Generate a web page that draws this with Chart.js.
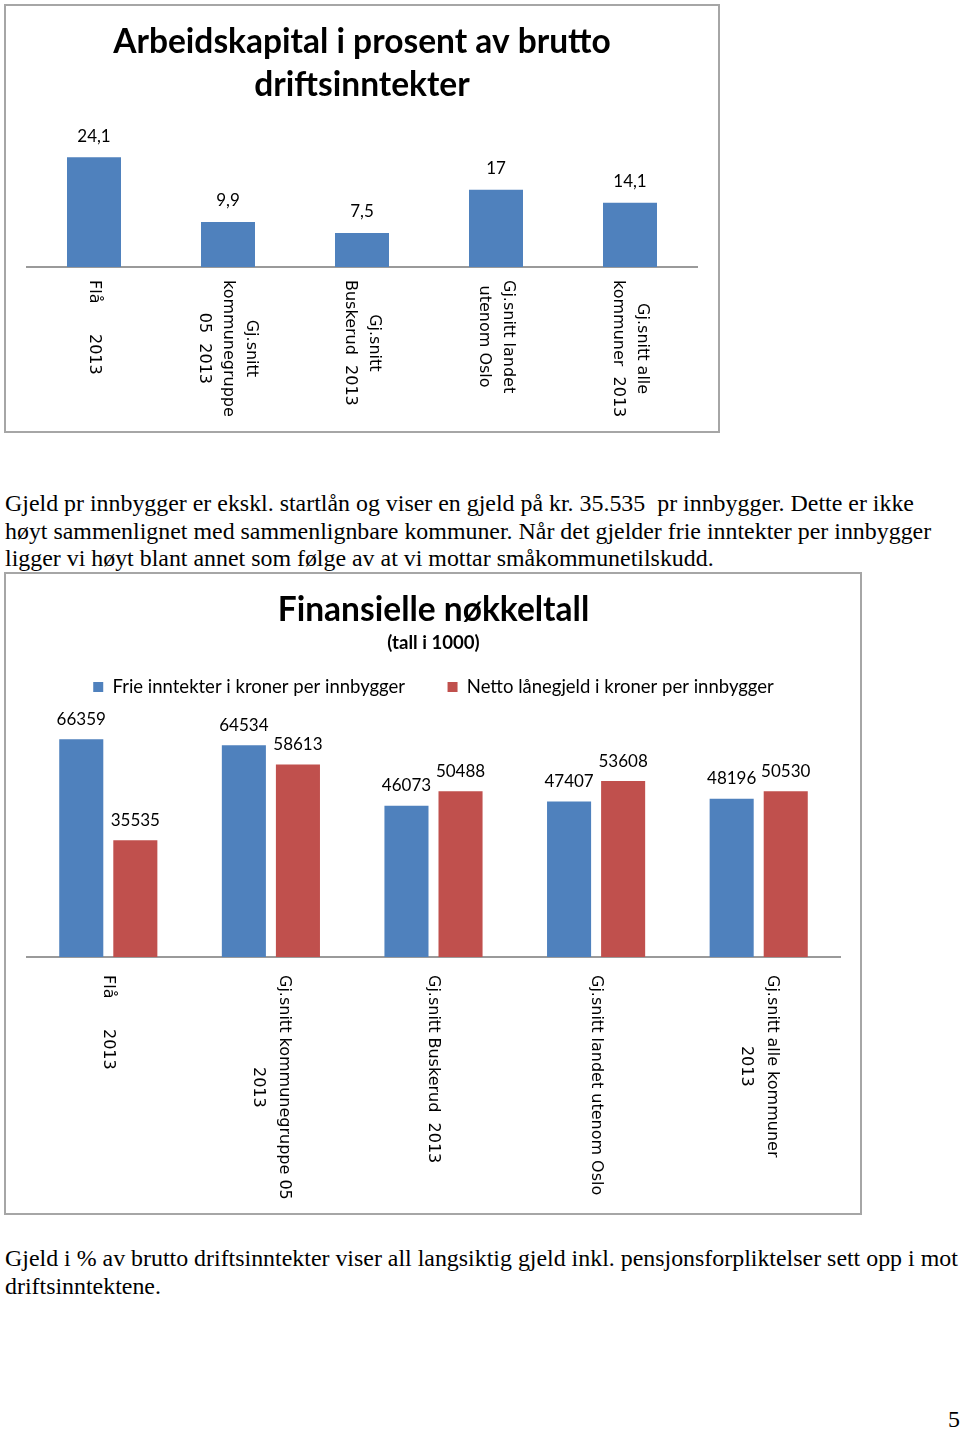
<!DOCTYPE html>
<html lang="no">
<head>
<meta charset="utf-8">
<title>Finansielle nøkkeltall</title>
<script src="https://cdn.jsdelivr.net/npm/chart.js@4.4.0/dist/chart.umd.min.js"></script>
<style>
  html, body { margin: 0; padding: 0; background: #fff; }
  body { position: relative; width: 960px; height: 1432px; overflow: hidden; }
  .box { position: absolute; border: 2px solid #a6a6a6; background: #fff; }
  .box canvas { display: block; }
  #box1 { left: 4px; top: 4px; width: 712px; height: 425px; }
  #box2 { left: 4px; top: 572px; width: 854px; height: 639px; }
  .txt {
    position: absolute; left: 5px; margin: 0;
    font-family: "Liberation Serif", "Times New Roman", serif;
    font-size: 23.9px; line-height: 27.5px; color: #000; white-space: nowrap;
  }
  #p1 { top: 490px; }
  #p2 { top: 1245px; }
  #pagenr { position: absolute; right: 0; top: 1406px; left: auto; }
</style>
</head>
<body>

<div class="box" id="box1"><canvas id="arbeidskapitalChart" width="712" height="425"></canvas></div>

<p class="txt" id="p1">Gjeld pr innbygger er ekskl. startlån og viser en gjeld på kr. 35.535&nbsp; pr innbygger. Dette er ikke<br>høyt sammenlignet med sammenlignbare kommuner. Når det gjelder frie inntekter per innbygger<br>ligger vi høyt blant annet som følge av at vi mottar småkommunetilskudd.</p>

<div class="box" id="box2"><canvas id="nokkeltallChart" width="854" height="639"></canvas></div>

<p class="txt" id="p2">Gjeld i % av brutto driftsinntekter viser all langsiktig gjeld inkl. pensjonsforpliktelser sett opp i mot<br>driftsinntektene.</p>

<p class="txt" id="pagenr">5</p>

<script>
// --- DATA ---
const kategorierArbeidskapital = [
    'Flå      2013',
    ['Gj.snitt', 'kommunegruppe', '05  2013'],
    ['Gj.snitt', 'Buskerud  2013'],
    ['Gj.snitt landet', 'utenom Oslo'],
    ['Gj.snitt alle', 'kommuner  2013']
];
const arbeidskapitalProsent = [24.1, 9.9, 7.5, 17, 14.1];

const kategorierNokkeltall = [
    'Flå      2013',
    ['Gj.snitt kommunegruppe 05', '2013'],
    'Gj.snitt Buskerud  2013',
    'Gj.snitt landet utenom Oslo',
    ['Gj.snitt alle kommuner', '2013']
];
const frieInntekter = [66359, 64534, 46073, 47407, 48196];
const nettoLanegjeld = [35535, 58613, 50488, 53608, 50530];

const BLUE = '#4f81bd';
const RED = '#c0504d';
const LABEL_FONT = 'Lato, Carlito, Calibri, sans-serif';

// --- PLUGINS ---
// category labels turned 90 degrees clockwise, like the Excel original
const verticalLabels = {
    id: 'verticalLabels',
    afterDraw(chart, args, opts) {
        const ctx = chart.ctx;
        const xScale = chart.scales.x;
        ctx.save();
        ctx.font = opts.font;
        ctx.fillStyle = '#000';
        ctx.textAlign = 'center';
        ctx.textBaseline = 'middle';
        chart.data.labels.forEach((label, i) => {
            const lines = Array.isArray(label) ? label : [label];
            const longest = Math.max(...lines.map(l => ctx.measureText(l).width));
            ctx.save();
            ctx.translate(xScale.getPixelForTick(i), xScale.top + opts.offset);
            ctx.rotate(Math.PI / 2);
            lines.forEach((line, j) => {
                ctx.fillText(line, longest / 2, (j - (lines.length - 1) / 2) * opts.lineHeight);
            });
            ctx.restore();
        });
        ctx.restore();
    }
};

// value above each bar
const valueLabels = {
    id: 'valueLabels',
    afterDatasetsDraw(chart, args, opts) {
        const ctx = chart.ctx;
        ctx.save();
        ctx.font = opts.font;
        ctx.fillStyle = '#000';
        ctx.textAlign = 'center';
        ctx.textBaseline = 'middle';
        chart.data.datasets.forEach((ds, di) => {
            chart.getDatasetMeta(di).data.forEach((bar, i) => {
                ctx.fillText(String(ds.data[i]).replace('.', ','), bar.x, bar.y - opts.offset);
            });
        });
        ctx.restore();
    }
};

Chart.register(verticalLabels, valueLabels);

// --- CHART 1: Arbeidskapital ---
new Chart(document.getElementById('arbeidskapitalChart'), {
    type: 'bar',
    data: {
        labels: kategorierArbeidskapital,
        datasets: [{
            label: 'Arbeidskapital i prosent av brutto driftsinntekter',
            data: arbeidskapitalProsent,
            backgroundColor: BLUE,
            categoryPercentage: 1,
            barPercentage: 0.403
        }]
    },
    options: {
        responsive: false,
        animation: false,
        layout: { padding: { top: 14.5, left: 21, right: 21, bottom: 0 } },
        plugins: {
            legend: { display: false },
            tooltip: { enabled: false },
            title: {
                display: true,
                text: ['Arbeidskapital i prosent av brutto', 'driftsinntekter'],
                color: '#000',
                font: { family: LABEL_FONT, size: 33.5, weight: 'bold', lineHeight: 43 / 33.5 },
                padding: { top: 0, bottom: 24 }
            },
            verticalLabels: { font: '16px "DejaVu Sans"', offset: 13, lineHeight: 23.5 },
            valueLabels: { font: '17px ' + LABEL_FONT, offset: 21 }
        },
        scales: {
            x: {
                grid: { display: false },
                ticks: { display: false },
                border: { display: true, color: '#9a9a9a', width: 2 },
                afterFit: (scale) => { scale.height = 164; }
            },
            y: { display: false, min: 0, max: 30 }
        }
    }
});

// --- CHART 2: Finansielle nøkkeltall ---
new Chart(document.getElementById('nokkeltallChart'), {
    type: 'bar',
    data: {
        labels: kategorierNokkeltall,
        datasets: [{
            label: 'Frie inntekter i kroner per innbygger',
            data: frieInntekter,
            backgroundColor: BLUE,
            categoryPercentage: 0.665,
            barPercentage: 0.815
        }, {
            label: 'Netto lånegjeld i kroner per innbygger',
            data: nettoLanegjeld,
            backgroundColor: RED,
            categoryPercentage: 0.665,
            barPercentage: 0.815
        }]
    },
    options: {
        responsive: false,
        animation: false,
        layout: { padding: { top: 15.9, left: 21, right: 20, bottom: 0 } },
        plugins: {
            tooltip: { enabled: false },
            title: {
                display: true,
                text: 'Finansielle nøkkeltall',
                color: '#000',
                font: { family: LABEL_FONT, size: 33.5, weight: 'bold', lineHeight: 1.2 },
                padding: { top: 0, bottom: 1.7 }
            },
            subtitle: {
                display: true,
                text: '(tall i 1000)',
                color: '#000',
                font: { family: LABEL_FONT, size: 18.6, weight: 'bold', lineHeight: 1.2 },
                // negative bottom pulls the wide-spaced legend up under the subtitle
                padding: { top: 0, bottom: -18.9 }
            },
            legend: {
                display: true,
                position: 'top',
                labels: {
                    color: '#000',
                    font: { family: LABEL_FONT, size: 18.5 },
                    boxWidth: 10,
                    boxHeight: 10,
                    padding: 42.5
                }
            },
            verticalLabels: { font: '16px "DejaVu Sans"', offset: 18, lineHeight: 26 },
            valueLabels: { font: '17px ' + LABEL_FONT, offset: 20 }
        },
        scales: {
            x: {
                grid: { display: false },
                ticks: { display: false },
                border: { display: true, color: '#9a9a9a', width: 2 },
                afterFit: (scale) => { scale.height = 256; }
            },
            y: { display: false, min: 0, max: 76400 }
        }
    }
});
</script>
</body>
</html>
